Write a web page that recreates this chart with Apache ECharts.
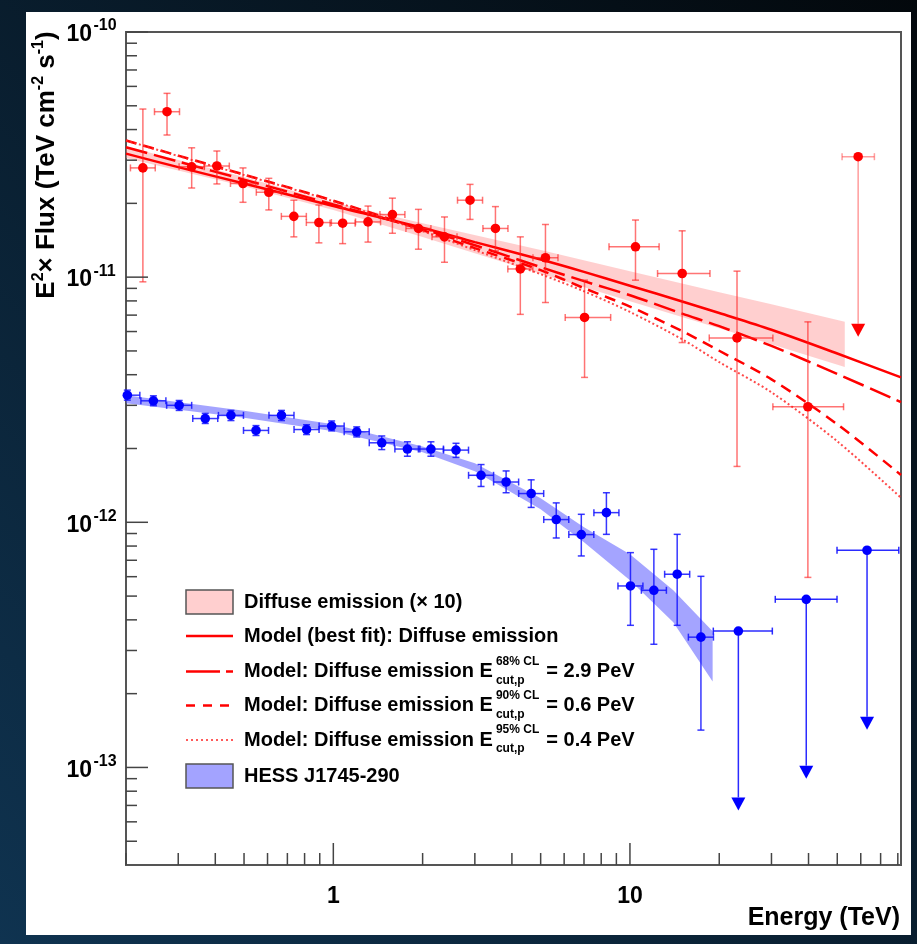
<!DOCTYPE html>
<html>
<head>
<meta charset="utf-8">
<title>E2 x Flux - Diffuse emission and HESS J1745-290</title>
<script src="https://cdn.jsdelivr.net/npm/echarts@6/dist/echarts.min.js"></script>
<style>
  html, body { margin: 0; padding: 0; background: #081826; }
  #chart { width: 917px; height: 944px; }
</style>
</head>
<body>
<div id="chart"></div>
<script>
// diffuse emission (x10), red points: energy (TeV), bin edges, flux and its error range
const diffE   = [0.228, 0.275, 0.333, 0.405, 0.496, 0.606, 0.736, 0.894, 1.075, 1.309, 1.582, 1.936, 2.37, 2.89, 3.52, 4.27, 5.19, 7.03, 10.44, 15.0, 22.96, 39.8]
const diffElo = [0.207, 0.2495, 0.302, 0.3675, 0.450, 0.550, 0.668, 0.811, 0.975, 1.188, 1.436, 1.757, 2.151, 2.622, 3.194, 3.875, 4.71, 6.05, 8.50, 12.39, 18.51, 30.33]
const diffEhi = [0.251, 0.303, 0.367, 0.446, 0.547, 0.668, 0.811, 0.985, 1.185, 1.443, 1.743, 2.133, 2.612, 3.185, 3.879, 4.706, 5.72, 8.61, 12.54, 18.61, 30.33, 52.5]
const diffF   = [2.79e-11, 4.73e-11, 2.82e-11, 2.84e-11, 2.41e-11, 2.22e-11, 1.77e-11, 1.67e-11, 1.66e-11, 1.68e-11, 1.80e-11, 1.58e-11, 1.46e-11, 2.06e-11, 1.58e-11, 1.08e-11, 1.20e-11, 6.85e-12, 1.33e-11, 1.035e-11, 5.65e-12, 2.96e-12]
const diffFlo = [9.57e-12, 3.80e-11, 2.31e-11, 2.40e-11, 2.02e-11, 1.88e-11, 1.46e-11, 1.38e-11, 1.37e-11, 1.39e-11, 1.51e-11, 1.30e-11, 1.15e-11, 1.72e-11, 1.28e-11, 7.05e-12, 7.88e-12, 3.90e-12, 9.72e-12, 5.41e-12, 1.69e-12, 5.96e-13]
const diffFhi = [4.85e-11, 5.62e-11, 3.37e-11, 3.27e-11, 2.79e-11, 2.53e-11, 2.06e-11, 1.97e-11, 1.92e-11, 1.95e-11, 2.10e-11, 1.89e-11, 1.76e-11, 2.39e-11, 1.94e-11, 1.46e-11, 1.64e-11, 9.72e-12, 1.71e-11, 1.545e-11, 1.058e-11, 6.57e-12]

// diffuse emission upper limit
const diffUlE   = [58.8]
const diffUlElo = [51.9]
const diffUlEhi = [66.7]
const diffUlF   = [3.10e-11]
const diffUlTip = [5.71e-12]

// HESS J1745-290, blue points
const hessE   = [0.2021, 0.2474, 0.3022, 0.370, 0.4517, 0.5487, 0.6686, 0.8123, 0.987, 1.199, 1.4565, 1.777, 2.133, 2.592, 3.148, 3.824, 4.645, 5.643, 6.855, 8.330, 10.04, 12.04, 14.43, 17.35]
const hessElo = [0.1834, 0.2245, 0.2742, 0.3358, 0.4099, 0.4979, 0.6067, 0.7371, 0.8956, 1.088, 1.3217, 1.6125, 1.9356, 2.352, 2.857, 3.470, 4.215, 5.121, 6.221, 7.559, 9.111, 10.93, 13.09, 15.74]
const hessEhi = [0.2227, 0.2726, 0.333, 0.4077, 0.4978, 0.6047, 0.7368, 0.8952, 1.0877, 1.3213, 1.605, 1.958, 2.351, 2.856, 3.469, 4.214, 5.119, 6.219, 7.554, 9.180, 11.06, 13.27, 15.90, 19.12]
const hessF   = [3.30e-12, 3.13e-12, 3.00e-12, 2.65e-12, 2.73e-12, 2.37e-12, 2.73e-12, 2.39e-12, 2.47e-12, 2.34e-12, 2.11e-12, 1.99e-12, 1.99e-12, 1.97e-12, 1.555e-12, 1.46e-12, 1.31e-12, 1.026e-12, 8.91e-13, 1.095e-12, 5.50e-13, 5.28e-13, 6.14e-13, 3.40e-13]
const hessFlo = [3.15e-12, 2.99e-12, 2.86e-12, 2.53e-12, 2.60e-12, 2.26e-12, 2.60e-12, 2.28e-12, 2.36e-12, 2.23e-12, 1.98e-12, 1.86e-12, 1.86e-12, 1.84e-12, 1.40e-12, 1.32e-12, 1.15e-12, 8.63e-13, 7.29e-13, 8.93e-13, 3.80e-13, 3.18e-13, 3.80e-13, 1.42e-13]
const hessFhi = [3.46e-12, 3.28e-12, 3.14e-12, 2.78e-12, 2.86e-12, 2.48e-12, 2.86e-12, 2.50e-12, 2.59e-12, 2.45e-12, 2.25e-12, 2.13e-12, 2.13e-12, 2.10e-12, 1.72e-12, 1.62e-12, 1.49e-12, 1.20e-12, 1.078e-12, 1.32e-12, 7.52e-13, 7.76e-13, 8.93e-13, 6.02e-13]

// HESS upper limits
const hessUlE   = [23.2, 39.3, 63.0]
const hessUlElo = [19.1, 30.9, 49.9]
const hessUlEhi = [30.2, 49.9, 80.6]
const hessUlF   = [3.60e-13, 4.85e-13, 7.69e-13]
const hessUlTip = [6.68e-14, 9.0e-14, 1.425e-13]

// shaded bands
const diffBandE  = [0.2, 0.5, 1, 2, 5, 10, 20, 30, 53]
const diffBandHi = [3.41e-11, 2.56e-11, 2.02e-11, 1.66e-11, 1.289e-11, 1.058e-11, 8.68e-12, 7.76e-12, 6.57e-12]
const diffBandLo = [3.06e-11, 2.35e-11, 1.877e-11, 1.457e-11, 1.033e-11, 7.98e-12, 6.19e-12, 5.33e-12, 4.30e-12]
const hessBandE  = [0.2, 0.5, 1, 2, 3, 5, 7, 10, 14, 19]
const hessBandHi = [3.30e-12, 2.85e-12, 2.51e-12, 2.04e-12, 1.74e-12, 1.253e-12, 9.54e-13, 7.40e-13, 5.28e-13, 3.59e-13]
const hessBandLo = [3.06e-12, 2.67e-12, 2.35e-12, 1.93e-12, 1.615e-12, 1.130e-12, 8.29e-13, 5.80e-13, 3.91e-13, 2.24e-13]

// model curves
const modelE   = [0.2, 0.3, 0.5, 1, 2, 3, 5, 7, 10, 15, 20, 30, 50, 82]
const bestFit  = [3.19e-11, 2.81e-11, 2.41e-11, 1.95e-11, 1.59e-11, 1.39e-11, 1.18e-11, 1.051e-11, 9.23e-12, 7.96e-12, 7.14e-12, 6.10e-12, 4.88e-12, 3.90e-12]
const cut68    = [3.39e-11, 2.96e-11, 2.50e-11, 1.98e-11, 1.57e-11, 1.35e-11, 1.099e-11, 9.63e-12, 8.44e-12, 7.10e-12, 6.31e-12, 5.24e-12, 4.03e-12, 3.09e-12]
const cut90    = [3.61e-11, 3.13e-11, 2.62e-11, 2.05e-11, 1.555e-11, 1.313e-11, 1.068e-11, 9.02e-12, 7.58e-12, 6.02e-12, 5.01e-12, 3.83e-12, 2.51e-12, 1.56e-12]
const cut95    = [3.61e-11, 3.12e-11, 2.61e-11, 2.04e-11, 1.54e-11, 1.289e-11, 1.028e-11, 8.76e-12, 7.21e-12, 5.58e-12, 4.50e-12, 3.39e-12, 2.14e-12, 1.259e-12]

// axes
const xMin = 0.2, xMax = 82
const yMin = 4e-14, yMax = 1e-10
const xMajor = [1, 10]
const xMinor = [0.2, 0.3, 0.4, 0.5, 0.6, 0.7, 0.8, 0.9, 2, 3, 4, 5, 6, 7, 8, 9, 20, 30, 40, 50, 60, 70, 80]
const yMajor = [1e-13, 1e-12, 1e-11, 1e-10]
const yMinor = [5e-14, 6e-14, 7e-14, 8e-14, 9e-14,
  2e-13, 3e-13, 4e-13, 5e-13, 6e-13, 7e-13, 8e-13, 9e-13,
  2e-12, 3e-12, 4e-12, 5e-12, 6e-12, 7e-12, 8e-12, 9e-12,
  2e-11, 3e-11, 4e-11, 5e-11, 6e-11, 7e-11, 8e-11, 9e-11]

const legendNames = [
  ['Diffuse emission (× 10)'],
  ['Model (best fit): Diffuse emission'],
  ['Model: Diffuse emission E', '68% CL', 'cut,p', '= 2.9 PeV'],
  ['Model: Diffuse emission E', '90% CL', 'cut,p', '= 0.6 PeV'],
  ['Model: Diffuse emission E', '95% CL', 'cut,p', '= 0.4 PeV'],
  ['HESS J1745-290']
]

const FONT = '"Liberation Sans", Arial, Helvetica, sans-serif'
const RED = '#ff0000'
const BLUE = '#0000ff'

const myChart = echarts.init(document.getElementById('chart'))

const zip = (...cols) => cols[0].map((_, i) => cols.map(c => c[i]))

// point with x and y error bars
const errorItem = (dotColor, barColor) => (params, api) => {
  const cs = params.coordSys
  const c = api.coord([api.value(0), api.value(1)])
  const xl = Math.max(api.coord([api.value(2), api.value(1)])[0], cs.x)
  const xh = Math.min(api.coord([api.value(3), api.value(1)])[0], cs.x + cs.width)
  const yl = Math.min(api.coord([api.value(0), api.value(4)])[1], cs.y + cs.height)
  const yh = Math.max(api.coord([api.value(0), api.value(5)])[1], cs.y)
  const st = { stroke: barColor, lineWidth: 1.5 }
  const cap = 3.5
  const kids = [
    { type: 'line', shape: { x1: xl, y1: c[1], x2: xh, y2: c[1] }, style: st },
    { type: 'line', shape: { x1: c[0], y1: yl, x2: c[0], y2: yh }, style: st },
    { type: 'line', shape: { x1: c[0] - cap, y1: yl, x2: c[0] + cap, y2: yl }, style: st },
    { type: 'line', shape: { x1: c[0] - cap, y1: yh, x2: c[0] + cap, y2: yh }, style: st },
    { type: 'circle', shape: { cx: c[0], cy: c[1], r: 4.8 }, style: { fill: dotColor } }
  ]
  if (xl > cs.x + 1) kids.push({ type: 'line', shape: { x1: xl, y1: c[1] - cap, x2: xl, y2: c[1] + cap }, style: st })
  if (xh < cs.x + cs.width - 1) kids.push({ type: 'line', shape: { x1: xh, y1: c[1] - cap, x2: xh, y2: c[1] + cap }, style: st })
  return { type: 'group', children: kids }
}

// upper limit: horizontal bar + arrow down
const ulItem = (dotColor, barColor) => (params, api) => {
  const c = api.coord([api.value(0), api.value(1)])
  const xl = api.coord([api.value(2), api.value(1)])[0]
  const xh = api.coord([api.value(3), api.value(1)])[0]
  const tip = api.coord([api.value(0), api.value(4)])[1]
  const st = { stroke: barColor, lineWidth: 1.5 }
  const cap = 3.5, hw = 7, hh = 13
  return {
    type: 'group',
    children: [
      { type: 'line', shape: { x1: xl, y1: c[1], x2: xh, y2: c[1] }, style: st },
      { type: 'line', shape: { x1: xl, y1: c[1] - cap, x2: xl, y2: c[1] + cap }, style: st },
      { type: 'line', shape: { x1: xh, y1: c[1] - cap, x2: xh, y2: c[1] + cap }, style: st },
      { type: 'line', shape: { x1: c[0], y1: c[1], x2: c[0], y2: tip - hh }, style: st },
      { type: 'polygon', shape: { points: [[c[0] - hw, tip - hh], [c[0] + hw, tip - hh], [c[0], tip]] }, style: { fill: dotColor } },
      { type: 'circle', shape: { cx: c[0], cy: c[1], r: 4.8 }, style: { fill: dotColor } }
    ]
  }
}

// shaded band: one polygon through all items
const bandItem = (fill) => (params, api) => {
  if (params.dataIndexInside !== 0) return null
  const n = params.dataInsideLength
  const top = [], bot = []
  for (let i = 0; i < n; i++) {
    top.push(api.coord([api.value(0, i), api.value(2, i)]))
    bot.push(api.coord([api.value(0, i), api.value(1, i)]))
  }
  return { type: 'polygon', shape: { points: top.concat(bot.reverse()) }, style: { fill: fill } }
}

const isDecade = v => Math.abs(Math.log10(v) - Math.round(Math.log10(v))) < 1e-6

// ticks and labels drawn inside the frame, ROOT style
const yTickItem = (params, api) => {
  const cs = params.coordSys
  const v = api.value(1)
  const y = api.coord([xMin, v])[1]
  const major = isDecade(v)
  const kids = [{ type: 'line', shape: { x1: cs.x, y1: y, x2: cs.x + (major ? 22 : 11), y2: y }, style: { stroke: '#444', lineWidth: 1.5 } }]
  if (major) {
    kids.push({ type: 'text', style: { text: '10', x: cs.x - 34, y: y + 3, align: 'right', verticalAlign: 'middle', font: 'bold 23px ' + FONT, fill: '#000' } })
    kids.push({ type: 'text', style: { text: String(Math.round(Math.log10(v))), x: cs.x - 32.5, y: y - 6, align: 'left', verticalAlign: 'middle', font: 'bold 16px ' + FONT, fill: '#000' } })
  }
  return { type: 'group', children: kids }
}

const xTickItem = (params, api) => {
  const cs = params.coordSys
  const v = api.value(0)
  const x = api.coord([v, yMin])[0]
  const yb = cs.y + cs.height
  const major = isDecade(v)
  const kids = [{ type: 'line', shape: { x1: x, y1: yb, x2: x, y2: yb - (major ? 22 : 12) }, style: { stroke: '#444', lineWidth: 1.5 } }]
  if (major) {
    kids.push({ type: 'text', style: { text: String(Math.round(v)), x: x, y: yb + 32, align: 'center', verticalAlign: 'middle', font: 'bold 23px ' + FONT, fill: '#000' } })
  }
  return { type: 'group', children: kids }
}

// legend, drawn by hand because of the stacked sub/superscripts
const measure = document.createElement('canvas').getContext('2d')
const textW = (s, font) => { measure.font = font; return measure.measureText(s).width }

const buildLegend = () => {
  const x0 = 186, w = 47, tx = 244
  const rowsY = [602, 636, 671.5, 705.5, 740, 776]
  const mainFont = 'bold 20px ' + FONT
  const smallFont = 'bold 12px ' + FONT
  const els = []
  const icons = [
    { kind: 'rect', fill: '#ffcfcf' },
    { kind: 'line', dash: null, color: RED, width: 2.5 },
    { kind: 'line', dash: [34, 6, 7, 6], color: RED, width: 2.5 },
    { kind: 'line', dash: [9, 8], color: RED, width: 2.5 },
    { kind: 'line', dash: [2, 3], color: 'rgba(255,60,60,0.85)', width: 2 },
    { kind: 'rect', fill: '#a3a3ff' }
  ]
  icons.forEach((ic, i) => {
    const y = rowsY[i]
    if (ic.kind === 'rect') {
      els.push({ type: 'rect', shape: { x: x0, y: y - 12, width: w, height: 24 }, style: { fill: ic.fill, stroke: '#555', lineWidth: 1.5 } })
    } else {
      els.push({ type: 'line', shape: { x1: x0, y1: y, x2: x0 + w, y2: y }, style: { stroke: ic.color, lineWidth: ic.width, lineDash: ic.dash } })
    }
    const parts = legendNames[i]
    els.push({ type: 'text', style: { text: parts[0], x: tx, y: y, verticalAlign: 'middle', font: mainFont, fill: '#000' } })
    if (parts.length > 1) {
      const sx = tx + textW(parts[0], mainFont) + 3
      els.push({ type: 'text', style: { text: parts[1], x: sx, y: y - 10, verticalAlign: 'middle', font: smallFont, fill: '#000' } })
      els.push({ type: 'text', style: { text: parts[2], x: sx, y: y + 9, verticalAlign: 'middle', font: smallFont, fill: '#000' } })
      const ex = sx + Math.max(textW(parts[1], smallFont), textW(parts[2], smallFont)) + 7
      els.push({ type: 'text', style: { text: parts[3], x: ex, y: y, verticalAlign: 'middle', font: mainFont, fill: '#000' } })
    }
  })
  return els
}

const option = {
  animation: false,
  backgroundColor: new echarts.graphic.LinearGradient(1, 0, 0, 1, [
    { offset: 0, color: '#03080c' },
    { offset: 1, color: '#0f3350' }
  ]),
  grid: {
    left: 126, top: 32, width: 775, height: 833,
    show: true, borderColor: '#555', borderWidth: 2, backgroundColor: 'transparent'
  },
  xAxis: {
    type: 'log', logBase: 10, min: xMin, max: xMax,
    axisLine: { show: false }, axisTick: { show: false }, axisLabel: { show: false }, splitLine: { show: false }
  },
  yAxis: {
    type: 'log', logBase: 10, min: yMin, max: yMax,
    axisLine: { show: false }, axisTick: { show: false }, axisLabel: { show: false }, splitLine: { show: false }
  },
  graphic: [
    { type: 'rect', z: -100, shape: { x: 26, y: 12, width: 885, height: 923 }, style: { fill: '#ffffff' } },
    {
      type: 'text', x: 47, y: 165, rotation: Math.PI / 2,
      style: {
        text: '{m|E}{s|2}{m|× Flux (TeV cm}{s|-2}{m| s}{s|-1}{m|)}',
        align: 'center', verticalAlign: 'middle', fill: '#000',
        rich: {
          m: { fontSize: 26, fontWeight: 'bold', fontFamily: FONT, lineHeight: 32 },
          s: { fontSize: 16, fontWeight: 'bold', fontFamily: FONT, lineHeight: 16, verticalAlign: 'top' }
        }
      }
    },
    {
      type: 'text', x: 900, y: 918,
      style: { text: 'Energy (TeV)', align: 'right', verticalAlign: 'middle', font: 'bold 25px ' + FONT, fill: '#000' }
    }
  ].concat(buildLegend()),
  series: [
    {
      name: 'Diffuse emission (× 10)', type: 'custom', z: 1, silent: true,
      renderItem: bandItem('rgba(255,140,140,0.42)'),
      data: zip(diffBandE, diffBandLo, diffBandHi)
    },
    {
      name: 'HESS J1745-290 band', type: 'custom', z: 1, silent: true,
      renderItem: bandItem('rgba(90,90,255,0.55)'),
      data: zip(hessBandE, hessBandLo, hessBandHi)
    },
    {
      name: 'Model (best fit)', type: 'line', z: 2, symbol: 'none', smooth: 0.3, silent: true,
      lineStyle: { color: RED, width: 2.5 },
      data: zip(modelE, bestFit)
    },
    {
      name: 'Model 68% CL', type: 'line', z: 2, symbol: 'none', smooth: 0.3, silent: true,
      lineStyle: { color: RED, width: 2.5, type: [22, 7] },
      data: zip(modelE, cut68)
    },
    {
      name: 'Model 90% CL', type: 'line', z: 2, symbol: 'none', smooth: 0.3, silent: true,
      lineStyle: { color: RED, width: 2.5, type: [11, 7] },
      data: zip(modelE, cut90)
    },
    {
      name: 'Model 95% CL', type: 'line', z: 2, symbol: 'none', smooth: 0.3, silent: true,
      lineStyle: { color: 'rgba(255,40,40,0.85)', width: 2, type: [2, 2.5] },
      data: zip(modelE, cut95)
    },
    {
      name: 'Diffuse points', type: 'custom', z: 3, silent: true,
      renderItem: errorItem(RED, 'rgba(255,30,30,0.62)'),
      data: zip(diffE, diffF, diffElo, diffEhi, diffFlo, diffFhi)
    },
    {
      name: 'Diffuse UL', type: 'custom', z: 3, silent: true,
      renderItem: ulItem(RED, 'rgba(255,60,60,0.5)'),
      data: zip(diffUlE, diffUlF, diffUlElo, diffUlEhi, diffUlTip)
    },
    {
      name: 'HESS points', type: 'custom', z: 3, silent: true,
      renderItem: errorItem(BLUE, 'rgba(20,20,255,0.85)'),
      data: zip(hessE, hessF, hessElo, hessEhi, hessFlo, hessFhi)
    },
    {
      name: 'HESS UL', type: 'custom', z: 3, silent: true,
      renderItem: ulItem(BLUE, 'rgba(20,20,255,0.9)'),
      data: zip(hessUlE, hessUlF, hessUlElo, hessUlEhi, hessUlTip)
    },
    {
      name: 'y ticks', type: 'custom', z: 4, silent: true, clip: false,
      renderItem: yTickItem,
      data: yMinor.concat(yMajor).map(v => [xMin, v])
    },
    {
      name: 'x ticks', type: 'custom', z: 4, silent: true, clip: false,
      renderItem: xTickItem,
      data: xMinor.concat(xMajor).map(v => [v, yMin])
    }
  ]
}

myChart.setOption(option)
window.addEventListener('resize', () => myChart.resize())
</script>
</body>
</html>
